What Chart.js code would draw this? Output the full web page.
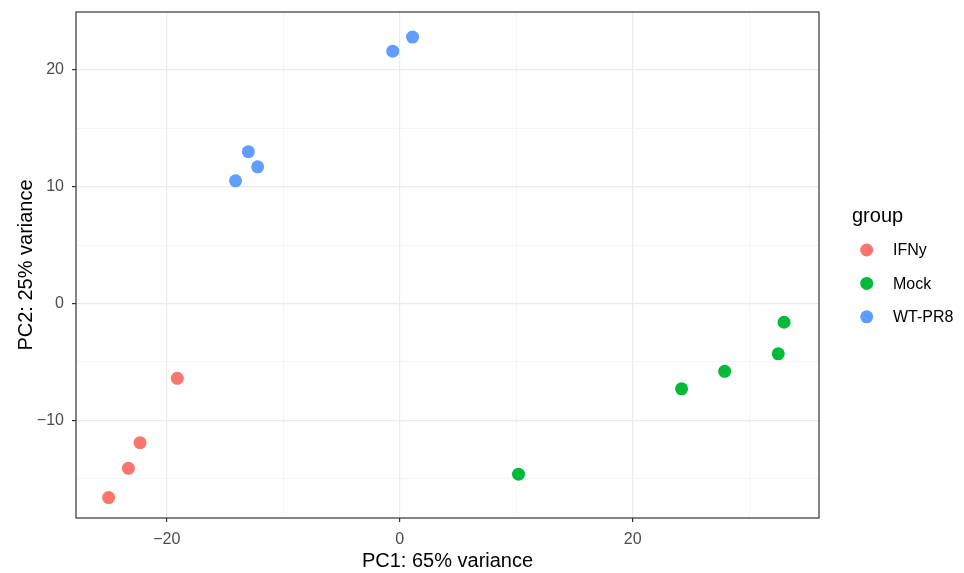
<!DOCTYPE html>
<html>
<head>
<meta charset="utf-8">
<script src="https://cdn.jsdelivr.net/npm/chart.js"></script>
<style>
  html, body { margin: 0; padding: 0; background: #fff; }
  canvas { display: block; }
</style>
</head>
<body>
<canvas id="pcaChart" width="964" height="573"></canvas>
<script>
// groups and PC coordinates
const groups = ['IFNy', 'Mock', 'WT-PR8'];
const groupColors = ['#F8766D', '#00BA38', '#619CFF'];

const ifnyPC1 = [-19.1, -22.3, -23.3, -25.0];
const ifnyPC2 = [-6.4, -11.9, -14.1, -16.6];

const mockPC1 = [10.2, 24.2, 27.9, 32.5, 33.0];
const mockPC2 = [-14.6, -7.3, -5.8, -4.3, -1.6];

const wtPC1 = [-0.6, 1.1, -13.0, -12.2, -14.1];
const wtPC2 = [21.6, 22.8, 13.0, 11.7, 10.5];

// axis breaks
const xMajor = [-20, 0, 20];
const xMinor = [-10, 10, 30];
const yMajor = [-10, 0, 10, 20];
const yMinor = [-15, -5, 5, 15];

const FONT = '"Liberation Sans", Arial, Helvetica, sans-serif';

function toPoints(xs, ys) {
    return xs.map((x, i) => ({ x: x, y: ys[i] }));
}

function fmt(v) {
    return v < 0 ? '\u2212' + Math.abs(v) : String(v);
}

const seriesX = [ifnyPC1, mockPC1, wtPC1];
const seriesY = [ifnyPC2, mockPC2, wtPC2];

const data = {
    datasets: groups.map((g, i) => ({
        label: g,
        data: toPoints(seriesX[i], seriesY[i]),
        backgroundColor: groupColors[i],
        borderWidth: 0,
        pointRadius: 6.5,
        pointHoverRadius: 6.5
    }))
};

function gridOpts(major) {
    return {
        drawTicks: true,
        tickLength: 4,
        color: (c) => major.includes(c.tick && c.tick.value) ? '#EBEBEB' : '#F3F3F3',
        lineWidth: (c) => major.includes(c.tick && c.tick.value) ? 1.2 : 0.8,
        tickColor: (c) => major.includes(c.tick && c.tick.value) ? '#333333' : 'rgba(0,0,0,0)',
        tickWidth: 1.2
    };
}

// panel border drawn on top, like theme_bw
const framePlugin = {
    id: 'frame',
    afterDraw(chart) {
        const { ctx, chartArea: a } = chart;
        ctx.save();
        ctx.strokeStyle = '#333333';
        ctx.lineWidth = 1.2;
        ctx.strokeRect(a.left, a.top, a.right - a.left, a.bottom - a.top);
        ctx.restore();
    }
};

// ggplot-style legend on the right
const legendPlugin = {
    id: 'ggLegend',
    afterDraw(chart) {
        const ctx = chart.ctx;
        ctx.save();
        ctx.fillStyle = '#000';
        ctx.font = '20px ' + FONT;
        ctx.textBaseline = 'alphabetic';
        ctx.fillText('group', 852, 222);
        ctx.font = '16px ' + FONT;
        ctx.textBaseline = 'middle';
        chart.data.datasets.forEach((ds, i) => {
            const y = 250 + i * 33.4;
            ctx.beginPath();
            ctx.fillStyle = ds.backgroundColor;
            ctx.arc(866.7, y, 6.5, 0, Math.PI * 2);
            ctx.fill();
            ctx.fillStyle = '#000';
            ctx.fillText(ds.label, 893, y + 1);
        });
        ctx.restore();
    }
};

const ctx = document.getElementById('pcaChart').getContext('2d');
const pcaChart = new Chart(ctx, {
    type: 'scatter',
    data: data,
    plugins: [framePlugin, legendPlugin],
    options: {
        responsive: false,
        animation: false,
        events: [],
        layout: { padding: { top: 12, right: 145, bottom: 0, left: 0 } },
        plugins: {
            legend: { display: false },
            tooltip: { enabled: false }
        },
        scales: {
            x: {
                type: 'linear',
                min: -27.8,
                max: 36.0,
                afterBuildTicks: (scale) => {
                    scale.ticks = xMajor.concat(xMinor).sort((a, b) => a - b).map(v => ({ value: v }));
                },
                afterFit: (scale) => {
                    scale.height = 55;
                    scale.paddingLeft = 0;
                    scale.paddingRight = 0;
                },
                ticks: {
                    autoSkip: false,
                    maxRotation: 0,
                    padding: 8,
                    color: '#4D4D4D',
                    font: { family: FONT, size: 16 },
                    callback: (v) => xMajor.includes(v) ? fmt(v) : ''
                },
                grid: gridOpts(xMajor),
                border: { display: false },
                title: {
                    display: true,
                    text: 'PC1: 65% variance',
                    color: '#000',
                    font: { family: FONT, size: 20 },
                    padding: { top: 0, bottom: 0 }
                }
            },
            y: {
                type: 'linear',
                min: -18.35,
                max: 24.95,
                afterBuildTicks: (scale) => {
                    scale.ticks = yMajor.concat(yMinor).sort((a, b) => a - b).map(v => ({ value: v }));
                },
                afterFit: (scale) => {
                    scale.width = 76;
                    scale.paddingTop = 0;
                    scale.paddingBottom = 0;
                },
                ticks: {
                    autoSkip: false,
                    padding: 8,
                    color: '#4D4D4D',
                    font: { family: FONT, size: 16 },
                    callback: (v) => yMajor.includes(v) ? fmt(v) : ''
                },
                grid: gridOpts(yMajor),
                border: { display: false },
                title: {
                    display: true,
                    text: 'PC2: 25% variance',
                    color: '#000',
                    font: { family: FONT, size: 20 },
                    padding: { top: 14, bottom: 0 }
                }
            }
        }
    }
});
</script>
</body>
</html>
